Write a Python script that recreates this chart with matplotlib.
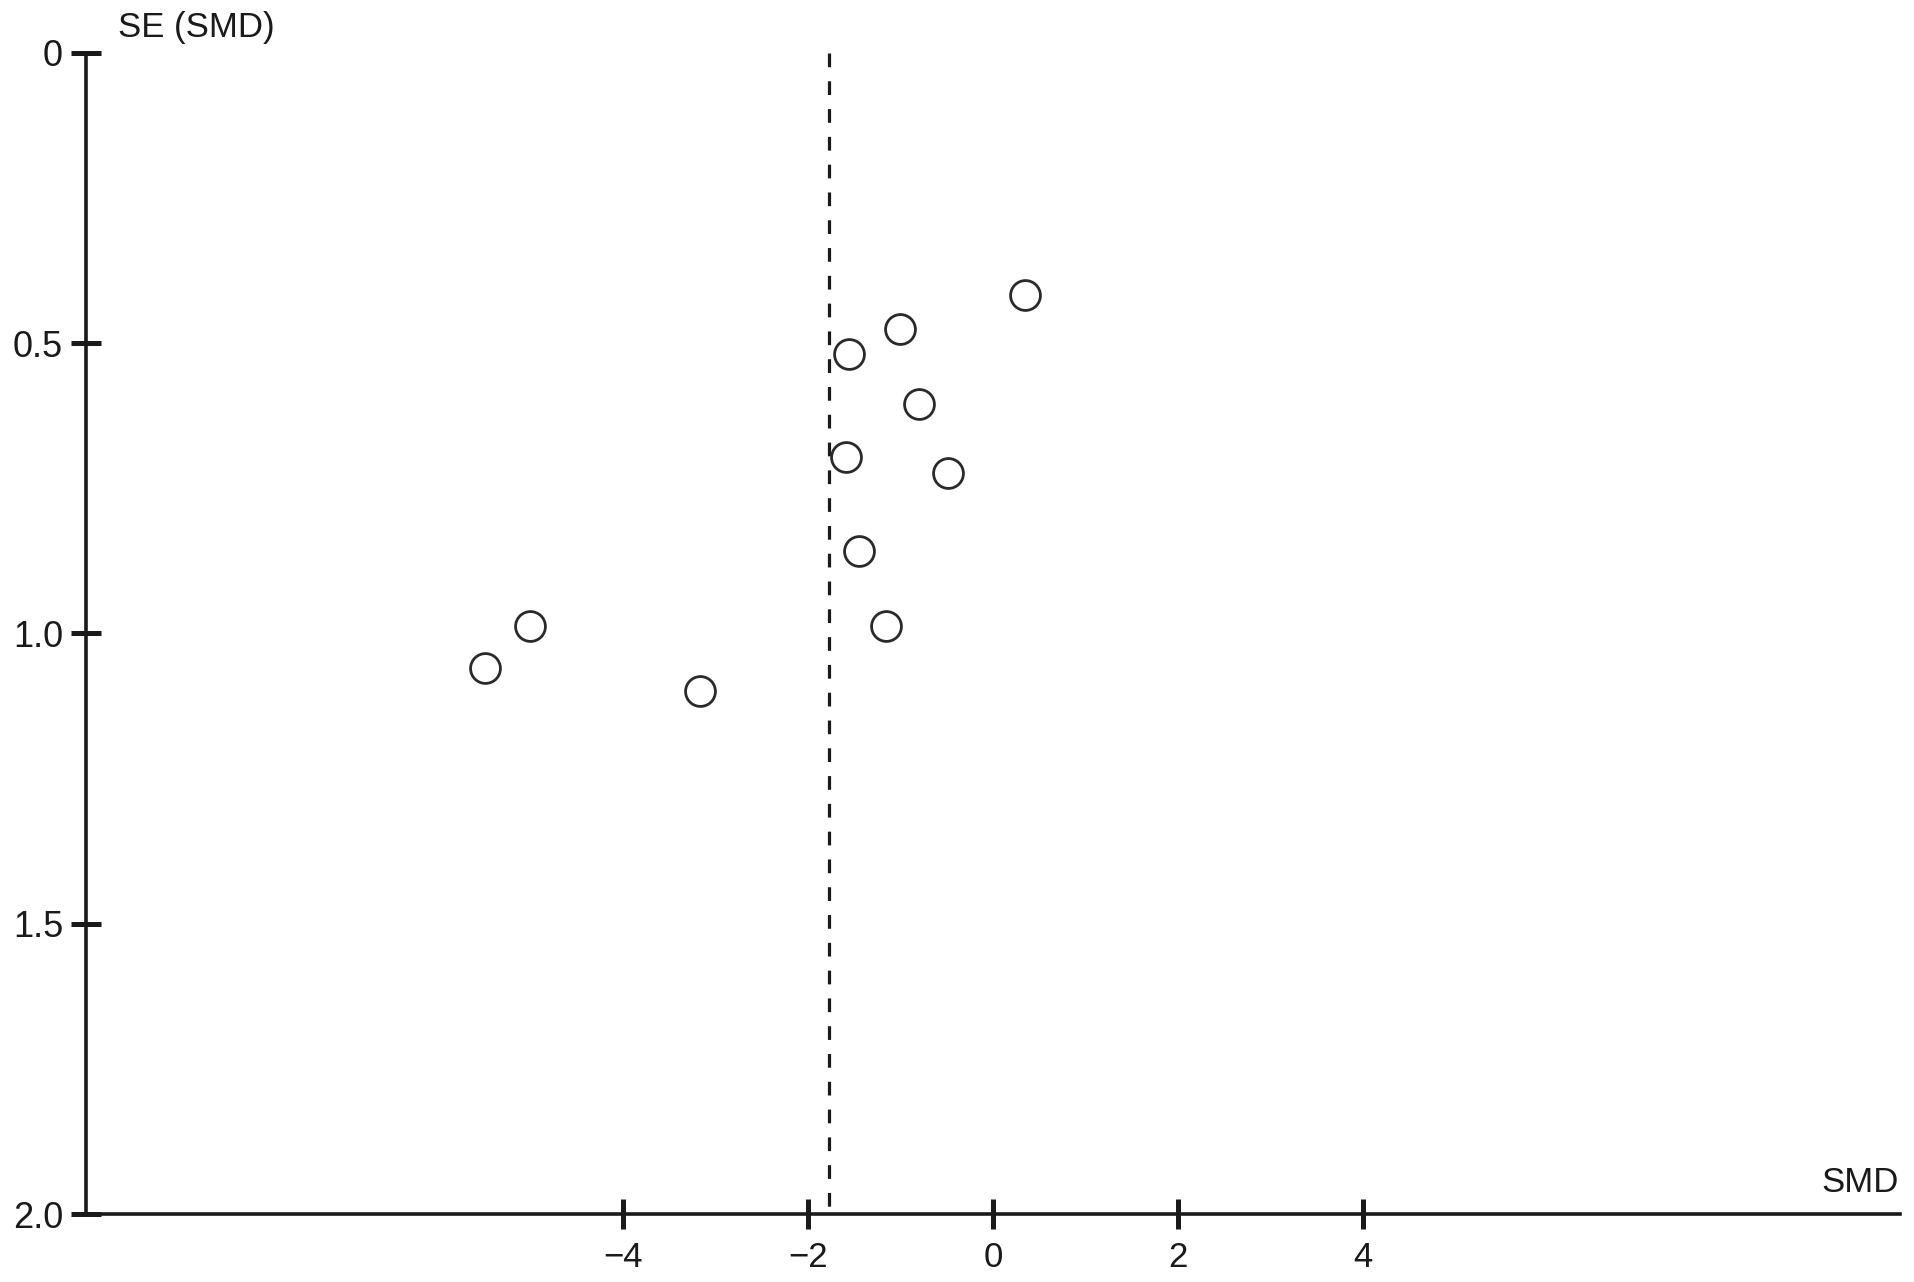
import matplotlib
matplotlib.use("Agg")
import matplotlib.pyplot as plt

# Data
smd = [0.35, -1.00, -1.56, -0.80, -1.59, -0.49, -1.45, -1.16, -5.00, -5.49, -3.17]
se = [0.418, 0.476, 0.519, 0.605, 0.696, 0.723, 0.859, 0.987, 0.987, 1.059, 1.099]
pooled_smd = -1.77
x_ticks = [-4, -2, 0, 2, 4]
x_ticklabels = ["\u22124", "\u22122", "0", "2", "4"]
y_ticks = [0, 0.5, 1.0, 1.5, 2.0]
y_ticklabels = ["0", "0.5", "1.0", "1.5", "2.0"]

plt.rcParams['font.family'] = ['Liberation Sans', 'DejaVu Sans']

fig = plt.figure(figsize=(19.14, 12.82), dpi=100)
ax = fig.add_axes([0.0449, 0.0530, 0.9478, 0.9059])

ax.plot([pooled_smd, pooled_smd], [0, 2.0], color='#1a1a1a', lw=2.3,
        linestyle=(0, (4.3, 4.4)), zorder=1)
ax.plot(smd, se, linestyle='none', marker='o', markersize=21.5,
        markerfacecolor='white', markeredgecolor='#2a2a2a',
        markeredgewidth=2.0, zorder=3)

ax.set_xlim(-9.8, 9.8)
ax.set_ylim(2.0, 0)

for s in ['top', 'right']:
    ax.spines[s].set_visible(False)
for s in ['left', 'bottom']:
    ax.spines[s].set_linewidth(2.6)
    ax.spines[s].set_color('#1a1a1a')

ax.set_xticks(x_ticks)
ax.set_xticklabels(x_ticklabels)
ax.set_yticks(y_ticks)
ax.set_yticklabels(y_ticklabels)
ax.tick_params(axis='both', direction='inout', length=21, width=3.6,
               color='#1a1a1a', labelcolor='#1a1a1a')
ax.tick_params(axis='x', pad=9, labelsize=25)
ax.tick_params(axis='y', pad=6, labelsize=26)

fig.text(118 / 1914, 1 - 27 / 1282, 'SE (SMD)', fontsize=25, ha='left',
         va='center', color='#1a1a1a')
fig.text(1899 / 1914, 1 - 1183 / 1282, 'SMD', fontsize=25, ha='right',
         va='center', color='#1a1a1a')

fig.savefig('out.png', dpi=100, facecolor='white')
